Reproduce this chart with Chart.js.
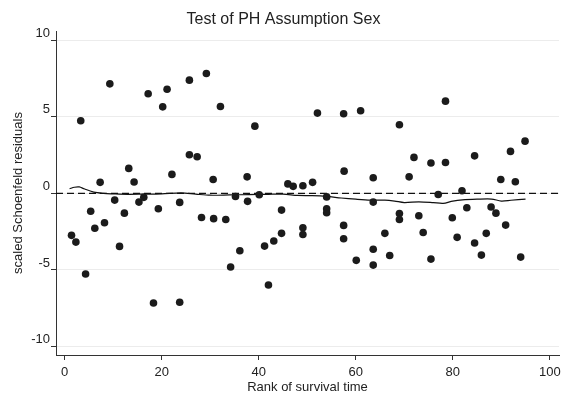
<!DOCTYPE html>
<html lang="en">
<head>
<meta charset="UTF-8">
<title>Test of PH Assumption Sex</title>
<script src="https://cdn.jsdelivr.net/npm/chart.js"></script>
<style>
  body, html { margin: 0; padding: 0; background: #fff; }
  #chart { display: block; }
</style>
</head>
<body>
<canvas id="chart" width="566" height="398"></canvas>
<script>
  // scaled Schoenfeld residuals against rank of survival time
  const rankX = [1.4, 2.3, 3.3, 4.3, 5.35, 6.2, 7.3, 8.2, 9.3, 10.3,
    11.3, 12.3, 13.2, 14.3, 15.3, 16.3, 17.2, 18.3, 19.3, 20.2,
    21.1, 22.1, 23.7, 23.7, 25.7, 25.7, 27.3, 28.2, 29.2, 30.6,
    30.7, 32.1, 33.2, 34.2, 35.2, 36.1, 37.6, 37.7, 39.2, 40.1,
    41.2, 42.0, 43.1, 44.7, 44.7, 46.0, 47.1, 49.1, 49.1, 49.1,
    51.1, 52.1, 54.0, 54.0, 54.0, 57.5, 57.6, 57.5, 57.5, 60.1,
    61.0, 63.6, 63.6, 63.6, 63.6, 66.0, 67.0, 69.0, 69.0, 69.0,
    71.0, 72.0, 73.0, 73.9, 75.5, 75.5, 77.0, 78.5, 78.5, 79.9,
    80.9, 81.9, 82.9, 84.5, 84.5, 85.9, 86.9, 87.9, 88.9, 89.9,
    90.9, 91.9, 92.9, 94.0, 94.9];
  const residY = [-2.74, -3.18, 4.74, -5.26, -1.17, -2.28, 0.72, -1.92, 7.15, -0.44,
    -3.46, -1.29, 1.63, 0.74, -0.57, -0.26, 6.5, -7.16, -1.0, 5.65,
    6.8, 1.24, -0.59, -7.11, 7.39, 2.52, 2.39, -1.57, 7.83, 0.91,
    -1.65, 5.67, -1.70, -4.81, -0.2, -3.74, 1.08, -0.52, 4.39, -0.09,
    -3.44, -5.98, -3.11, -1.09, -2.61, 0.62, 0.46, 0.5, -2.24, -2.68,
    0.72, 5.24, -0.23, -1.0, -1.26, 5.2, 1.45, -2.09, -2.96, -4.37,
    5.39, 1.02, -0.57, -3.65, -4.68, -2.61, -4.05, 4.48, -1.31, -1.70,
    1.08, 2.35, -1.46, -2.55, 1.98, -4.29, -0.07, 6.02, 2.02, -1.59,
    -2.87, 0.17, -0.94, 2.45, -3.24, -4.03, -2.61, -0.89, -1.29, 0.91,
    -2.07, 2.74, 0.76, -4.16, 3.41];

  // smoothed curve
  const smoothX = [1, 2, 3, 4, 6, 8, 10, 13, 16, 20, 24, 27, 30, 34, 38, 42, 45, 48,
    51, 54, 57, 60, 63, 66, 68, 70, 73, 76, 78, 80, 82, 85, 88, 90, 92, 95];
  const smoothY = [0.3, 0.4, 0.42, 0.3, 0.08, 0.0, -0.03, -0.06, -0.05, -0.03, 0.03, -0.05,
    -0.12, -0.1, -0.08, -0.06, -0.05, -0.13, -0.15, -0.2, -0.3, -0.38, -0.44, -0.44,
    -0.5, -0.6, -0.55, -0.6, -0.65, -0.5, -0.42, -0.38, -0.37, -0.5, -0.45, -0.37];

  const xTicks = [0, 20, 40, 60, 80, 100];
  const yTicks = [-10, -5, 0, 5, 10];
  const xRange = [-1.8, 101.9];
  const yRange = [-10.55, 10.6];

  const font = 'Liberation Sans, Arial, sans-serif';
  const ink = '#222';

  const points = rankX.map((x, i) => ({ x: x, y: residY[i] }));
  const smooth = smoothX.map((x, i) => ({ x: x, y: smoothY[i] }));
  const zeroLine = xRange.map(x => ({ x: x, y: 0 }));

  new Chart(document.getElementById('chart'), {
    type: 'scatter',
    data: {
      datasets: [
        {
          data: points,
          pointRadius: 3.8,
          pointBackgroundColor: '#1b1b1b',
          pointBorderWidth: 0,
          showLine: false
        },
        {
          data: smooth,
          showLine: true,
          borderColor: '#111',
          borderWidth: 1.2,
          pointRadius: 0,
          tension: 0.3
        },
        {
          data: zeroLine,
          showLine: true,
          borderColor: '#111',
          borderWidth: 1.2,
          borderDash: [7, 4],
          pointRadius: 0
        }
      ]
    },
    options: {
      responsive: false,
      animation: false,
      devicePixelRatio: 1,
      layout: { padding: { left: 8, right: 7, top: 0, bottom: 0 } },
      plugins: {
        legend: { display: false },
        tooltip: { enabled: false },
        title: {
          display: true,
          text: 'Test of PH Assumption Sex',
          color: ink,
          font: { family: font, size: 16, weight: 'normal' },
          padding: { top: 10, bottom: 1.8 }
        }
      },
      scales: {
        x: {
          type: 'linear',
          min: xRange[0],
          max: xRange[1],
          afterBuildTicks: s => { s.ticks = xTicks.map(v => ({ value: v })); },
          afterFit: s => { s.height = 43; },
          grid: { drawOnChartArea: false, tickLength: 5, tickColor: '#333' },
          border: { color: '#333', width: 1 },
          ticks: { color: ink, padding: 5, font: { family: font, size: 13 } },
          title: {
            display: true,
            text: 'Rank of survival time',
            color: ink,
            font: { family: font, size: 13 },
            padding: { top: 0, bottom: 3 }
          }
        },
        y: {
          type: 'linear',
          min: yRange[0],
          max: yRange[1],
          afterBuildTicks: s => { s.ticks = yTicks.map(v => ({ value: v })); },
          afterFit: s => { s.width = 48; },
          grid: { color: '#ececec', tickLength: 5, tickColor: '#333' },
          border: { color: '#333', width: 1 },
          ticks: { color: ink, padding: 1, labelOffset: -7, font: { family: font, size: 13 } },
          title: {
            display: true,
            text: 'scaled Schoenfeld residuals',
            color: ink,
            font: { family: font, size: 13 },
            padding: { top: 3, bottom: 0 }
          }
        }
      }
    }
  });
</script>
</body>
</html>
